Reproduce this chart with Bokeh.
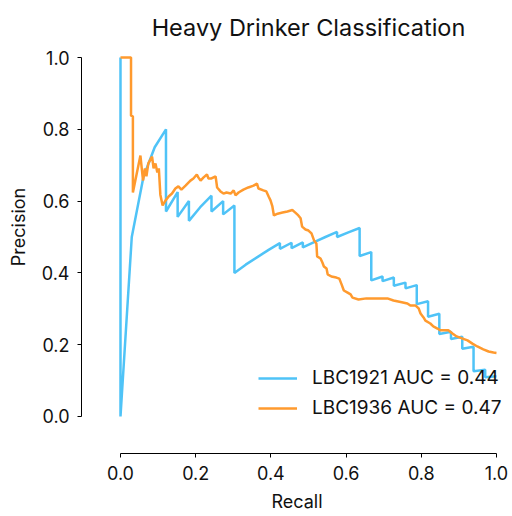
from bokeh.plotting import figure
from bokeh.models import Range1d, FixedTicker, PrintfTickFormatter, Legend, LegendItem, Label
from bokeh.embed import file_html
from bokeh.resources import INLINE

title_text = "Heavy Drinker Classification"
x_label = "Recall"
y_label = "Precision"
tick_values = [0.0, 0.2, 0.4, 0.6, 0.8, 1.0]
series_names = ["LBC1921 AUC = 0.44", "LBC1936 AUC = 0.47"]
series_colors = ["#4fc3f7", "#ff9a2e"]

lbc1921_recall = [0.0, 0.0, 0.030, 0.061, 0.091, 0.121, 0.121, 0.152, 0.152, 0.182, 0.182,
                  0.212, 0.242, 0.242, 0.273, 0.273, 0.303, 0.303, 0.333, 0.364, 0.394,
                  0.424, 0.424, 0.455, 0.455, 0.485, 0.485, 0.515, 0.545, 0.576, 0.576,
                  0.606, 0.636, 0.636, 0.667, 0.667, 0.697, 0.697, 0.727, 0.727, 0.758,
                  0.758, 0.788, 0.788, 0.818, 0.818, 0.848, 0.848, 0.879, 0.879, 0.909,
                  0.909, 0.939, 0.939, 0.970, 0.970, 1.0]
lbc1921_precision = [1.0, 0.0, 0.5, 0.667, 0.75, 0.8, 0.571, 0.625, 0.556, 0.6, 0.545,
                     0.583, 0.615, 0.571, 0.6, 0.563, 0.588, 0.4, 0.423, 0.444, 0.464,
                     0.483, 0.467, 0.484, 0.469, 0.485, 0.471, 0.486, 0.5, 0.514, 0.5,
                     0.513, 0.525, 0.447, 0.458, 0.379, 0.390, 0.377, 0.387, 0.364, 0.373,
                     0.357, 0.366, 0.313, 0.321, 0.278, 0.286, 0.230, 0.236, 0.216, 0.222,
                     0.189, 0.194, 0.126, 0.130, 0.109, 0.112]

lbc1936_recall = [0.0, 0.028, 0.028, 0.033, 0.033, 0.033, 0.053, 0.060, 0.065, 0.069,
                  0.074, 0.084, 0.088, 0.093, 0.098, 0.102, 0.106, 0.112, 0.120, 0.128,
                  0.137, 0.146, 0.154, 0.162, 0.173, 0.186, 0.194, 0.203, 0.207, 0.213,
                  0.221, 0.230, 0.234, 0.242, 0.253, 0.257, 0.266, 0.274, 0.282, 0.293,
                  0.301, 0.306, 0.314, 0.327, 0.340, 0.354, 0.363, 0.367, 0.380, 0.388,
                  0.394, 0.399, 0.404, 0.408, 0.418, 0.431, 0.444, 0.457, 0.465, 0.473,
                  0.479, 0.483, 0.492, 0.500, 0.508, 0.515, 0.521, 0.523, 0.532, 0.537,
                  0.541, 0.548, 0.551, 0.561, 0.574, 0.582, 0.588, 0.594, 0.604, 0.612,
                  0.617, 0.633, 0.654, 0.691, 0.710, 0.726, 0.745, 0.763, 0.771, 0.785,
                  0.793, 0.798, 0.806, 0.811, 0.824, 0.832, 0.843, 0.851, 0.872, 0.883,
                  0.894, 0.910, 0.923, 0.936, 0.949, 0.965, 0.979, 0.992, 1.0]
lbc1936_precision = [1.0, 1.0, 0.838, 0.836, 0.802, 0.624, 0.727, 0.657, 0.691, 0.669,
                     0.705, 0.724, 0.691, 0.705, 0.680, 0.691, 0.618, 0.588, 0.602, 0.613,
                     0.621, 0.635, 0.641, 0.632, 0.643, 0.657, 0.663, 0.674, 0.666, 0.657,
                     0.666, 0.674, 0.663, 0.663, 0.669, 0.638, 0.627, 0.621, 0.624, 0.621,
                     0.630, 0.616, 0.624, 0.632, 0.638, 0.643, 0.649, 0.635, 0.630, 0.627,
                     0.613, 0.602, 0.585, 0.560, 0.565, 0.568, 0.571, 0.575, 0.568, 0.560,
                     0.552, 0.529, 0.521, 0.518, 0.510, 0.490, 0.482, 0.446, 0.440, 0.429,
                     0.418, 0.412, 0.396, 0.390, 0.387, 0.384, 0.368, 0.351, 0.345, 0.340,
                     0.331, 0.326, 0.329, 0.329, 0.329, 0.323, 0.319, 0.315, 0.309, 0.309,
                     0.301, 0.287, 0.276, 0.267, 0.259, 0.251, 0.245, 0.240, 0.240, 0.231,
                     0.223, 0.217, 0.212, 0.203, 0.195, 0.187, 0.181, 0.178, 0.177]

FONT = "Inter"
TXT = "#111111"

p = figure(width=512, height=516, output_backend="svg", toolbar_location=None,
           x_range=Range1d(-0.1037, 1.0426), y_range=Range1d(-0.1031, 1.1588),
           min_border_left=81, min_border_bottom=63, min_border_top=0, min_border_right=0)
p.outline_line_color = None
p.xgrid.visible = False
p.ygrid.visible = False
p.background_fill_color = "white"
p.border_fill_color = "white"

for ax in (p.xaxis[0], p.yaxis[0]):
    ax.ticker = FixedTicker(ticks=tick_values)
    ax.bounds = (0, 1)
    ax.formatter = PrintfTickFormatter(format="%.1f")
    ax.minor_tick_line_color = None
    ax.major_tick_in = 0
    ax.major_tick_out = 4
    ax.axis_line_color = "black"
    ax.major_tick_line_color = "black"
    ax.major_label_text_font = FONT
    ax.major_label_text_font_size = "18px"
    ax.major_label_text_color = TXT
    ax.axis_label_text_font = FONT
    ax.axis_label_text_font_size = "18px"
    ax.axis_label_text_font_style = "normal"
    ax.axis_label_text_color = TXT
    ax.major_label_standoff = 8

p.xaxis.axis_label = x_label
p.yaxis.axis_label = y_label
p.xaxis.axis_label_standoff = 8
p.yaxis.axis_label_standoff = 10

r1 = p.line(lbc1921_recall, lbc1921_precision, line_color=series_colors[0], line_width=2.5)
r2 = p.line(lbc1936_recall, lbc1936_precision, line_color=series_colors[1], line_width=2.5)

title = Label(x=0.5, y=1.0827, text=title_text, text_align="center", text_baseline="alphabetic",
              text_font=FONT, text_font_size="23.5px", text_color=TXT)
p.add_layout(title)

legend = Legend(items=[LegendItem(label=series_names[0], renderers=[r1]),
                       LegendItem(label=series_names[1], renderers=[r2])],
                location=(177, 34), padding=0, margin=0, spacing=7,
                glyph_width=39, glyph_height=22, label_height=22, label_standoff=15,
                label_text_font=FONT, label_text_font_size="19px", label_text_color=TXT,
                border_line_color=None, background_fill_alpha=0)
p.add_layout(legend)

open("out.html", "w").write(file_html(p, INLINE))
